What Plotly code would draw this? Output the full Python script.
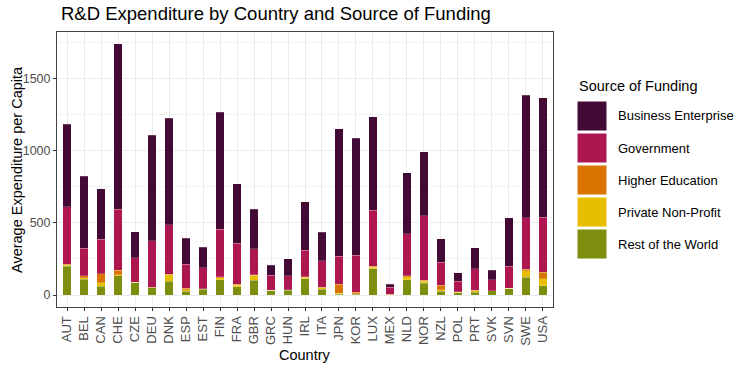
import plotly.graph_objects as go

# data
countries = ['AUT', 'BEL', 'CAN', 'CHE', 'CZE', 'DEU', 'DNK', 'ESP', 'EST', 'FIN',
             'FRA', 'GBR', 'GRC', 'HUN', 'IRL', 'ITA', 'JPN', 'KOR', 'LUX', 'MEX',
             'NLD', 'NOR', 'NZL', 'POL', 'PRT', 'SVK', 'SVN', 'SWE', 'USA']

rest_of_world = [199, 109, 60, 135, 85, 50, 97, 26, 40, 107,
                 56, 102, 31, 34, 114, 40, 7, 5, 183, 2,
                 107, 83, 26, 17, 19, 29, 45, 123, 65]
private_non_profit = [8, 12, 26, 6, 3, 2, 45, 9, 2, 14,
                      11, 35, 1, 1, 9, 9, 7, 5, 11, 1,
                      21, 14, 11, 2, 9, 1, 1, 44, 49]
higher_education = [5, 14, 60, 30, 2, 3, 3, 11, 2, 7,
                    7, 4, 1, 0, 2, 4, 62, 9, 5, 3,
                    4, 5, 30, 3, 5, 1, 0, 11, 44]
government = [399, 189, 241, 424, 170, 320, 343, 168, 144, 328,
              285, 181, 104, 97, 187, 183, 193, 257, 387, 47,
              294, 449, 160, 75, 150, 76, 153, 356, 381]
business_enterprise = [571, 500, 349, 1145, 177, 731, 736, 179, 143, 810,
                       412, 273, 69, 120, 333, 199, 883, 809, 649, 20,
                       421, 442, 162, 56, 146, 64, 338, 852, 828]

series = [
    ('Rest of the World', rest_of_world, '#7E8F10'),
    ('Private Non-Profit', private_non_profit, '#E8BE00'),
    ('Higher Education', higher_education, '#DA7400'),
    ('Government', government, '#AE1650'),
    ('Business Enterprise', business_enterprise, '#430A36'),
]

W, H = 747, 373
L, R, T, B = 57, 553, 32, 307  # plot panel in pixels
font = 'Liberation Sans, Arial, sans-serif'


def px(x):
    return (x - L) / (R - L)


def py(y):
    return (B - y) / (B - T)


fig = go.Figure()
for name, vals, col in series:
    fig.add_trace(go.Bar(
        x=countries, y=vals, name=name, width=0.5,
        marker=dict(color=col, line=dict(width=0.4, color='rgba(255,255,255,0.5)')),
        showlegend=False,
    ))

# hand-drawn legend, ggplot style (big square keys)
shapes = []
annotations = [
    dict(x=px(577), y=py(86), xref='paper', yref='paper', xanchor='left', yanchor='middle',
         text='Source of Funding', showarrow=False, font=dict(size=14.5, color='black')),
    dict(x=px(305), y=py(355), xref='paper', yref='paper', xanchor='center', yanchor='middle',
         text='Country', showarrow=False, font=dict(size=14.5, color='black')),
    dict(x=px(17), y=py(170), xref='paper', yref='paper', xanchor='center', yanchor='middle',
         text='Average Expenditure per Capita', textangle=-90, showarrow=False,
         font=dict(size=14.5, color='black')),
]
for i, (name, vals, col) in enumerate(reversed(series)):
    top = 101 + 32 * i
    shapes.append(dict(type='rect', xref='paper', yref='paper',
                       x0=px(577), x1=px(607), y0=py(top + 30), y1=py(top),
                       fillcolor=col, line=dict(width=1, color='white')))
    annotations.append(dict(
        x=px(616), y=py(top + 15), xref='paper', yref='paper', xanchor='left', yanchor='middle',
        text=name, showarrow=False, font=dict(size=13, color='black'),
    ))

fig.update_layout(
    width=W, height=H,
    barmode='stack',
    margin=dict(l=L, r=W - R, t=T, b=H - B),
    paper_bgcolor='white', plot_bgcolor='white',
    font=dict(family=font, color='black'),
    title=dict(text='R&D Expenditure by Country and Source of Funding',
               x=61 / W, xanchor='left', y=1 - 14 / H, yanchor='middle',
               font=dict(size=18.5, color='black')),
    shapes=shapes,
    annotations=annotations,
)
fig.update_xaxes(
    type='category', range=[-0.6, len(countries) - 0.4], automargin=False,
    tickangle=-90, tickfont=dict(size=13, color='#4D4D4D'),
    ticks='outside', ticklen=3, tickcolor='#333333',
    showgrid=True, gridcolor='#EBEBEB', gridwidth=1,
    showline=True, linecolor='#444444', linewidth=1, mirror=True,
)
fig.update_yaxes(
    range=[-83, 1823], tickvals=[0, 500, 1000, 1500], automargin=False,
    tickfont=dict(size=12.5, color='#4D4D4D'),
    ticks='outside', ticklen=3, tickcolor='#333333',
    showgrid=True, gridcolor='#EBEBEB', gridwidth=1.1,
    minor=dict(tickvals=[250, 750, 1250, 1750], showgrid=True, gridcolor='#F4F4F4', gridwidth=0.6, ticks=''),
    zeroline=False,
    showline=True, linecolor='#444444', linewidth=1, mirror=True,
)

# drop the default 8px page margin so the figure sits at the window's corner
fig.write_html('out.html', config=dict(displayModeBar=False),
               post_script="document.body.style.margin='0';")
